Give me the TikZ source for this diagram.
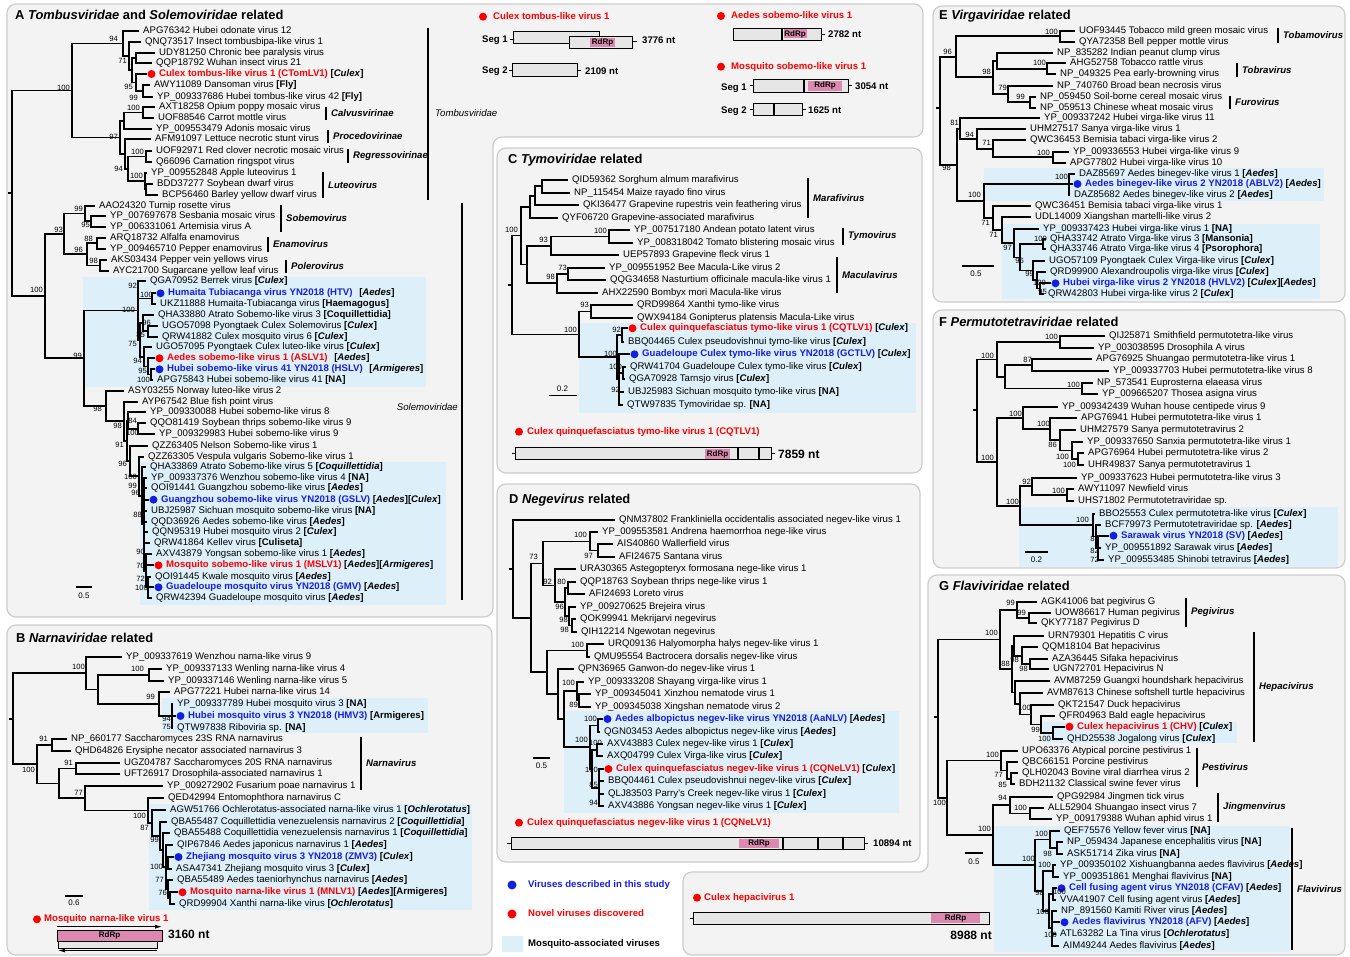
\documentclass[tikz,border=0pt]{standalone}
\usepackage{fontspec}
\setmainfont{Liberation Sans}
\usetikzlibrary{arrows.meta}

\definecolor{panelbg}{RGB}{243,243,243}
\definecolor{panelln}{RGB}{205,205,205}
\definecolor{mosq}{RGB}{221,240,250}
\definecolor{novred}{RGB}{255,0,0}
\definecolor{ourblue}{RGB}{20,30,225}
\definecolor{rdrp}{RGB}{221,136,176}
\definecolor{segfill}{RGB}{230,230,230}

\newcounter{lfn}
\newcounter{bsn}
\newcounter{cnn}
\newcommand{\lfont}{\fontsize{9.6}{11}\selectfont}
\newcommand{\tg}[1]{\textbf{[\textit{#1}]}}
\newcommand{\tgn}[1]{\textbf{[#1]}}
\newcommand{\cy}[1]{\csname cm#1\endcsname}

\tikzset{
  br/.style={line width=1.7pt, line cap=rect},
  lab/.style={anchor=mid west, inner sep=0pt, font=\lfont},
  bsv/.style={anchor=east, inner sep=0pt, font=\fontsize{7.6}{8}\selectfont},
  ttl/.style={anchor=west, inner sep=0pt, font=\fontsize{12.9}{14}\selectfont\bfseries},
  cld/.style={anchor=west, inner sep=0pt, font=\lfont\bfseries\itshape},
  fam/.style={inner sep=0pt, font=\lfont\itshape},
  cbar/.style={line width=1.6pt},
  panel/.style={fill=panelbg, draw=panelln, line width=1.2pt, rounded corners=9pt},
  mbox/.style={fill=mosq},
  seg/.style={fill=segfill, draw=black, line width=1pt},
  sep/.style={line width=1.4pt},
  stb/.style={line width=1pt},
  rd/.style={fill=rdrp},
  rdl/.style={inner sep=0pt, font=\fontsize{8}{9}\selectfont\bfseries},
  gname/.style={anchor=mid west, inner sep=0pt, font=\lfont\bfseries, text=novred},
  ntl/.style={anchor=mid west, inner sep=0pt, font=\lfont\bfseries},
  ntbig/.style={anchor=mid west, inner sep=0pt, font=\fontsize{12}{14}\selectfont\bfseries},
  sbar/.style={line width=1.5pt},
  slab/.style={inner sep=0pt, font=\fontsize{8}{9}\selectfont},
}

% clade: name, parent x, x, top y, bottom y
\newcommand{\cl}[5]{%
  \pgfmathsetmacro{\clm}{(#4+#5)/2}%
  \expandafter\xdef\csname cm#1\endcsname{\clm}%
  \draw[br] (#2,\clm) -- (#3,\clm) (#3,#4) -- (#3,#5);}
% leaf: parent x, text x, y, text
\newcommand{\lf}[4]{%
  \draw[br] (#1,#3) -- ({#2-5},#3);
  \stepcounter{lfn}\node[lab] (lf\arabic{lfn}) at (#2,#3) {#4};}
% marked leaf: parent x, text x, y, colour, name, rest
\newcommand{\lfd}[6]{%
  \draw[br] (#1,#3) -- ({#2-13},#3);
  \fill[#4] ({#2-7.5},#3) circle[radius=4];
  \stepcounter{lfn}\node[lab] (lf\arabic{lfn}) at (#2,#3) {\textcolor{#4}{\textbf{#5}} #6};}
\newcommand{\bs}[3]{\stepcounter{bsn}\node[bsv] (bs\arabic{bsn}) at (#1,#2) {#3};}
\newcommand{\cn}[4]{\draw[cbar] (#1,#2) -- (#1,#3);
  \stepcounter{cnn}\node[cld] (cn\arabic{cnn}) at ({#1+5},{(#2+#3)/2}) {#4};}

\begin{document}
\begin{tikzpicture}[x=1pt,y=-1pt]
\useasboundingbox (0,0) rectangle (1350,957);

% panels
\draw[panel] (7,4) -- (923,4) -- (923,137) -- (493,137) -- (493,617) -- (7,617) -- cycle;
\draw[panel] (7,625) rectangle (492,955);
\draw[panel] (497,148) rectangle (922,473);
\draw[panel] (497,484) rectangle (920,862);
\draw[panel] (933,6) rectangle (1345,302);
\draw[panel] (933,310) rectangle (1345,568);
\draw[panel] (928,575) -- (1345,575) -- (1345,955) -- (683,955) -- (683,872) -- (928,872) -- cycle;

\fill[mbox] (83,277) rectangle (426,387);
\fill[mbox] (140,462) rectangle (446,605);
\fill[mbox] (162,698) rectangle (428,733);
\fill[mbox] (149,804) rectangle (472,910);
\fill[mbox] (579,323) rectangle (916,413);
\fill[mbox] (564,711) rectangle (899,813);
\fill[mbox] (984,168) rectangle (1324,201);
\fill[mbox] (1002,224) rectangle (1320,299);
\fill[mbox] (1019,507) rectangle (1338,567);
\fill[mbox] (1043,722) rectangle (1237,743);
\fill[mbox] (994,826) rectangle (1290,952);

\node[ttl] (tA) at (15,15) {A \textit{Tombusviridae} and \textit{Solemoviridae} related};
\node[ttl] (tB) at (16,638) {B \textit{Narnaviridae} related};
\node[ttl] (tC) at (508,160) {C \textit{Tymoviridae} related};
\node[ttl] (tD) at (509,500) {D \textit{Negevirus} related};
\node[ttl] (tE) at (939,16) {E \textit{Virgaviridae} related};
\node[ttl] (tF) at (939,322) {F \textit{Permutotetraviridae} related};
\node[ttl] (tG) at (939,586) {G \textit{Flaviviridae} related};

% ---------------- A
\cl{T7}{136}{143}{85.3}{96.7}
\cl{T6}{132}{136}{74}{\cy{T7}}
\cl{T5}{132}{136}{52.7}{63.3}
\cl{T4}{129}{132}{\cy{T5}}{\cy{T6}}
\cl{T3}{123}{129}{42}{\cy{T4}}
\cl{T2}{72}{123}{31}{\cy{T3}}
\cl{Tcal}{124}{143}{107.3}{118}
\cl{T11}{120}{124}{\cy{Tcal}}{128.7}
\cl{Treg}{128}{146}{151.3}{162}
\cl{Tlu2}{145}{146}{184}{194.7}
\cl{Tlut}{128}{145}{173.3}{\cy{Tlu2}}
\cl{T13}{125}{128}{\cy{Treg}}{\cy{Tlut}}
\cl{T12}{120}{125}{139.3}{\cy{T13}}
\cl{T10}{72}{120}{\cy{T11}}{\cy{T12}}
\cl{T}{12}{72}{\cy{T2}}{\cy{T10}}
\cl{Sob2}{85}{91}{216}{226.7}
\cl{Sob}{64}{85}{205.7}{\cy{Sob2}}
\cl{Ena}{87}{97}{237.7}{248.7}
\cl{Pol}{87}{100}{260}{271}
\cl{EP}{64}{87}{\cy{Ena}}{\cy{Pol}}
\cl{S1}{45}{64}{\cy{Sob}}{\cy{EP}}
\cl{Htv}{138}{152}{293.3}{303.7}
\cl{Mc1b}{143}{148}{326}{336.7}
\cl{Mc1}{140}{143}{315}{\cy{Mc1b}}
\cl{Mc4}{148}{151}{369.3}{380}
\cl{Mc3}{144}{148}{358.3}{\cy{Mc4}}
\cl{Mc2}{140}{144}{347.3}{\cy{Mc3}}
\cl{Mc}{138}{140}{\cy{Mc1}}{\cy{Mc2}}
\cl{M1}{84}{138}{281}{\cy{Mc}}
\cl{N4b}{128}{138}{423.3}{434.3}
\cl{N4}{127}{128}{412}{\cy{N4b}}
\cl{M2d}{146}{148}{576.7}{598}
\cl{M2c}{144}{146}{554.3}{\cy{M2d}}
\cl{M2a}{142}{144}{477.7}{\cy{M2c}}
\cl{M2}{139}{142}{467.3}{\cy{M2a}}
\cl{N6}{130}{139}{456.7}{\cy{M2}}
\cl{N5}{127}{130}{445.7}{\cy{N6}}
\cl{N3}{124}{127}{\cy{N4}}{\cy{N5}}
\cl{N2}{106}{124}{401.7}{\cy{N3}}
\cl{N1}{84}{106}{391}{\cy{N2}}
\cl{S2}{45}{84}{\cy{M1}}{\cy{N1}}
\cl{S}{12}{45}{\cy{S1}}{\cy{S2}}
\draw[br] (12,\cy{T}) -- (12,\cy{S}) (9,193) -- (12,193);

\lf{123}{143}{31}{APG76342 Hubei odonate virus 12}
\lf{129}{145}{42}{QNQ73517 Insect tombusbipa-like virus 1}
\lf{136}{159}{52.7}{UDY81250 Chronic bee paralysis virus}
\lf{136}{156}{63.3}{QQP18792 Wuhan insect virus 21}
\lfd{136}{159}{74}{novred}{Culex tombus-like virus 1 (CTomLV1)}{\tg{Culex}}
\lf{143}{154}{85.3}{AWY11089 Dansoman virus \tgn{Fly}}
\lf{143}{157}{96.7}{YP\_009337686 Hubei tombus-like virus 42 \tgn{Fly}}
\lf{143}{159}{107.3}{AXT18258 Opium poppy mosaic virus}
\lf{143}{158}{118}{UOF88546 Carrot mottle virus}
\lf{124}{156}{128.7}{YP\_009553479 Adonis mosaic virus}
\lf{125}{155}{139.3}{AFM91097 Lettuce necrotic stunt virus}
\lf{146}{156}{151.3}{UOF92971 Red clover necrotic mosaic virus}
\lf{146}{156}{162}{Q66096 Carnation ringspot virus}
\lf{145}{151}{173.3}{YP\_009552848 Apple luteovirus 1}
\lf{146}{157}{184}{BDD37277 Soybean dwarf virus}
\lf{146}{162}{194.7}{BCP56460 Barley yellow dwarf virus}
\lf{85}{99}{205.7}{AAO24320 Turnip rosette virus}
\lf{91}{110}{216}{YP\_007697678 Sesbania mosaic virus}
\lf{91}{110}{226.7}{YP\_006331061 Artemisia virus A}
\lf{97}{110}{237.7}{ARQ18732 Alfalfa enamovirus}
\lf{97}{110}{248.7}{YP\_009465710 Pepper enamovirus}
\lf{100}{111}{260}{AKS03434 Pepper vein yellows virus}
\lf{100}{113}{271}{AYC21700 Sugarcane yellow leaf virus}
\lf{138}{150}{281}{QGA70952 Berrek virus \tg{Culex}}
\lfd{152}{168}{293.3}{ourblue}{Humaita Tubiacanga virus YN2018 (HTV)}{\hspace{4pt}\tg{Aedes}}
\lf{152}{160}{303.7}{UKZ11888 Humaita-Tubiacanga virus \tgn{Haemagogus}}
\lf{143}{158}{315}{QHA33880 Atrato Sobemo-like virus 3 \tgn{Coquillettidia}}
\lf{148}{162}{326}{UGO57098 Pyongtaek Culex Solemovirus \tg{Culex}}
\lf{148}{162}{336.7}{QRW41882 Culex mosquito virus 6 \tg{Culex}}
\lf{144}{156}{347.3}{UGO57095 Pyongtaek Culex luteo-like virus \tg{Culex}}
\lfd{148}{167}{358.3}{novred}{Aedes sobemo-like virus 1 (ASLV1)}{\hspace{4pt}\tg{Aedes}}
\lfd{151}{167}{369.3}{ourblue}{Hubei sobemo-like virus 41 YN2018 (HSLV)}{\hspace{4pt}\tg{Armigeres}}
\lf{151}{157}{380}{APG75843 Hubei sobemo-like virus 41 \tgn{NA}}
\lf{106}{128}{391}{ASY03255 Norway luteo-like virus 2}
\lf{124}{142}{401.7}{AYP67542 Blue fish point virus}
\lf{128}{150}{412}{YP\_009330088 Hubei sobemo-like virus 8}
\lf{138}{150}{423.3}{QQO81419 Soybean thrips sobemo-like virus 9}
\lf{138}{159}{434.3}{YP\_009329983 Hubei sobemo-like virus 9}
\lf{130}{152}{445.7}{QZZ63405 Nelson Sobemo-like virus 1}
\lf{139}{148}{456.7}{QZZ63305 Vespula vulgaris Sobemo-like virus 1}
\lf{142}{150}{467.3}{QHA33869 Atrato Sobemo-like virus 5 \tg{Coquillettidia}}
\lf{144}{151}{477.7}{YP\_009337376 Wenzhou sobemo-like virus 4 \tgn{NA}}
\lf{144}{151}{488.3}{QOI91441 Guangzhou sobemo-like virus \tg{Aedes}}
\lfd{144}{161}{499.7}{ourblue}{Guangzhou sobemo-like virus YN2018 (GSLV)}{\tg{Aedes}\tg{Culex}}
\lf{144}{151}{511}{UBJ25987 Sichuan mosquito sobemo-like virus \tgn{NA}}
\lf{144}{151}{521.7}{QQD36926 Aedes sobemo-like virus \tg{Aedes}}
\lf{144}{152}{532.3}{QQN95319 Hubei mosquito virus 2 \tg{Culex}}
\lf{144}{154}{543}{QRW41864 Kellev virus \tgn{Culiseta}}
\lf{146}{156}{554.3}{AXV43879 Yongsan sobemo-like virus 1 \tg{Aedes}}
\lfd{146}{166}{565.3}{novred}{Mosquito sobemo-like virus 1 (MSLV1)}{\tg{Aedes}\tg{Armigeres}}
\lf{148}{155}{576.7}{QOI91445 Kwale mosquito virus \tg{Aedes}}
\lfd{148}{166}{587.3}{ourblue}{Guadeloupe mosquito virus YN2018 (GMV)}{\tg{Aedes}}
\lf{148}{156}{598}{QRW42394 Guadeloupe mosquito virus \tg{Aedes}}

\bs{118}{39}{94} \bs{127}{61}{71} \bs{133}{87}{95} \bs{138}{98}{99} \bs{70}{88}{100}
\bs{140}{108}{100} \bs{118}{137}{97} \bs{144}{152}{100} \bs{123}{169}{94} \bs{143}{176}{100}
\bs{83}{209}{99} \bs{90}{225}{95} \bs{63}{230}{93} \bs{93}{239}{88} \bs{83}{250}{96} \bs{98}{261}{98}
\bs{43}{290}{100} \bs{137}{286}{92} \bs{153}{295}{100} \bs{135}{310}{100} \bs{151}{323}{96}
\bs{145}{335}{85} \bs{137}{344}{75} \bs{142}{361}{94} \bs{147}{371}{95} \bs{150}{380}{100}
\bs{82}{356}{99} \bs{102}{409}{98} \bs{122}{426}{98} \bs{137}{421}{84} \bs{139}{433}{100}
\bs{124}{445}{91} \bs{127}{464}{96} \bs{137}{477}{100} \bs{137}{486}{99} \bs{140}{493}{96}
\bs{142}{515}{88} \bs{145}{552}{90} \bs{145}{566}{70} \bs{145}{579}{72} \bs{148}{588}{100}

\cn{326}{107}{120}{Calvusvirinae}
\cn{328}{130}{143}{Procedovirinae}
\cn{348}{149}{163}{Regressovirinae}
\cn{323}{172}{198}{Luteovirus}
\cn{281}{205}{232}{Sobemovirus}
\cn{268}{237}{252}{Enamovirus}
\cn{286}{260}{273}{Polerovirus}
\draw[cbar] (428,28) -- (428,200);
\node[fam, anchor=west] (famT) at (435,113) {Tombusviridae};
\draw[cbar] (462,203) -- (462,600);
\node[fam, anchor=east] (famS) at (458,407) {Solemoviridae};
\draw[sbar] (76,587) -- (92,587);
\node[slab] (sA) at (84,596) {0.5};

% genomes top
\fill[novred] (483,16.7) circle[radius=4];
\node[gname] (gCT) at (493,16.7) {Culex tombus-like virus 1};
\node[ntl] (sCT1) at (482,40) {Seg 1};
\draw[stb] (510,40) -- (513,40);
\draw[seg] (513,31.7) rectangle (599,43.3);
\draw[seg] (569,36.7) rectangle (632,48.3);
\fill[rd] (590,38) rectangle (615,47.3);
\node[rdl] (rCT) at (602.5,42.7) {RdRp};
\draw[stb] (632,42) -- (637,42);
\node[ntl] (nCT1) at (642,41) {3776 nt};
\node[ntl] (sCT2) at (482,71) {Seg 2};
\draw[stb] (509,70.3) -- (512,70.3);
\draw[seg] (512,64) rectangle (577,76.7);
\draw[stb] (577,70.3) -- (581,70.3);
\node[ntl] (nCT2) at (585,71.5) {2109 nt};

\fill[novred] (721,16) circle[radius=4];
\node[gname] (gAS) at (731,16) {Aedes sobemo-like virus 1};
\draw[seg] (733,28.3) rectangle (821,40.7);
\fill[rd] (783.5,29.3) rectangle (807,38.5);
\node[rdl] (rAS) at (795,34) {RdRp};
\draw[sep] (782,28.3) -- (782,40.7);
\draw[stb] (821,34.5) -- (825,34.5);
\node[ntl] (nAS) at (828,35) {2782 nt};

\fill[novred] (721,66.7) circle[radius=4];
\node[gname] (gMS) at (731,66.7) {Mosquito sobemo-like virus 1};
\node[ntl] (sMS1) at (721,88) {Seg 1};
\draw[stb] (750,86) -- (753,86);
\draw[seg] (753,79.3) rectangle (848,92.3);
\fill[rd] (808,81) rectangle (842,90.7);
\node[rdl] (rMS) at (825,85.8) {RdRp};
\draw[sep] (804,79.3) -- (804,92.3);
\draw[stb] (848,86) -- (852,86);
\node[ntl] (nMS1) at (855,87) {3054 nt};
\node[ntl] (sMS2) at (721,110.7) {Seg 2};
\draw[stb] (750,109.5) -- (753,109.5);
\draw[seg] (753,103.3) rectangle (802,115.7);
\draw[sep] (774,103.3) -- (774,115.7);
\draw[stb] (802,109.5) -- (806,109.5);
\node[ntl] (nMS2) at (808,110.7) {1625 nt};

% ---------------- B
\cl{B3}{98}{149}{669}{680.7}
\cl{B5}{159}{172}{704}{727.7}
\cl{B4}{98}{159}{692.3}{\cy{B5}}
\cl{B2}{86}{98}{\cy{B3}}{\cy{B4}}
\cl{Bt}{13}{86}{656.7}{\cy{B2}}
\cl{B6}{37}{52}{739.3}{751}
\cl{B8}{59}{76}{762.7}{774.3}
\cl{B17}{168}{170}{892.3}{904}
\cl{B16}{166}{168}{880.3}{\cy{B17}}
\cl{B15}{166}{168}{857}{868.7}
\cl{B14}{163}{166}{845}{\cy{B16}}
\cl{B13}{160}{163}{833.3}{\cy{B14}}
\cl{B12}{152}{160}{821.7}{\cy{B13}}
\cl{B11}{148}{152}{810}{\cy{B12}}
\cl{B10}{85}{148}{798.3}{\cy{B11}}
\cl{B9}{59}{85}{786}{\cy{B10}}
\cl{B7}{37}{59}{\cy{B8}}{\cy{B9}}
\cl{Bb}{13}{37}{\cy{B6}}{\cy{B7}}
\draw[br] (13,\cy{Bt}) -- (13,\cy{Bb}) (10,718.7) -- (13,718.7);

\lf{86}{126}{656.7}{YP\_009337619 Wenzhou narna-like virus 9}
\lf{149}{166}{669}{YP\_009337133 Wenling narna-like virus 4}
\lf{149}{168}{680.7}{YP\_009337146 Wenling narna-like virus 5}
\lf{159}{174}{692.3}{APG77221 Hubei narna-like virus 14}
\lf{172}{177}{704}{YP\_009337789 Hubei mosquito virus 3 \tgn{NA}}
\lfd{172}{188}{716}{ourblue}{Hubei mosquito virus 3 YN2018 (HMV3)}{\tgn{Armigeres}}
\lf{172}{177}{727.7}{QTW97838 Riboviria sp. \tgn{NA}}
\lf{52}{71}{739.3}{NP\_660177 Saccharomyces 23S RNA narnavirus}
\lf{52}{75}{751}{QHD64826 Erysiphe necator associated narnavirus 3}
\lf{76}{124}{762.7}{UGZ04787 Saccharomyces 20S RNA narnavirus}
\lf{76}{124}{774.3}{UFT26917 Drosophila-associated narnavirus 1}
\lf{85}{167}{786}{YP\_009272902 Fusarium poae narnavirus 1}
\lf{148}{168}{798.3}{QED42994 Entomophthora narnavirus C}
\lf{152}{170}{810}{AGW51766 Ochlerotatus-associated narna-like virus 1 \tg{Ochlerotatus}}
\lf{160}{171}{821.7}{QBA55487 Coquillettidia venezuelensis narnavirus 2 \tg{Coquillettidia}}
\lf{163}{174}{833.3}{QBA55488 Coquillettidia venezuelensis narnavirus 1 \tg{Coquillettidia}}
\lf{166}{177}{845}{QIP67846 Aedes japonicus narnavirus 1 \tg{Aedes}}
\lfd{168}{186}{857}{ourblue}{Zhejiang mosquito virus 3 YN2018 (ZMV3)}{\tg{Culex}}
\lf{168}{176}{868.7}{ASA47341 Zhejiang mosquito virus 3 \tg{Culex}}
\lf{168}{177}{880.3}{QBA55489 Aedes taeniorhynchus narnavirus \tg{Aedes}}
\lfd{170}{190}{892.3}{novred}{Mosquito narna-like virus 1 (MNLV1)}{\tg{Aedes}\tgn{Armigeres}}
\lf{170}{179}{904}{QRD99904 Xanthi narna-like virus \tg{Ochlerotatus}}

\bs{85}{667}{100} \bs{144}{669}{100} \bs{155}{697}{99} \bs{171}{719}{94} \bs{171}{726.5}{75}
\bs{48}{739}{91} \bs{35}{770}{100} \bs{73}{763}{91} \bs{83}{793}{77} \bs{146}{816}{100}
\bs{149}{828}{87} \bs{159}{840}{99} \bs{163}{867}{100} \bs{164}{880}{77} \bs{167}{893}{76}

\cn{361}{737}{790}{Narnavirus}
\draw[sbar] (65,896) -- (83,896);
\node[slab] (sB) at (74,903) {0.6};
\fill[novred] (37,919.3) circle[radius=4];
\node[gname] (gMN) at (44,919.3) {Mosquito narna-like virus 1};
\draw[line width=1pt, -{Latex[length=7pt,width=4pt]}] (57,926.7) -- (162,926.7);
\draw[seg, fill=rdrp] (57,930) rectangle (162,941.7);
\node[rdl] (rMN) at (109.5,935.8) {RdRp};
\draw[seg] (58,941.7) rectangle (157,948.3);
\draw[line width=1pt, -{Latex[length=7pt,width=4pt]}] (157,950.5) -- (58,950.5);
\node[ntbig] (nMN) at (168,936) {3160 nt};

% ---------------- C
\cl{C2b}{535}{542}{180}{192.7}
\cl{C2a}{530}{535}{\cy{C2b}}{205}
\cl{C2}{521}{530}{\cy{C2a}}{217.7}
\cl{Ctym}{551}{609}{230.3}{242.7}
\cl{C4}{527}{551}{\cy{Ctym}}{255}
\cl{C7}{557}{568}{267.7}{280}
\cl{C6}{527}{557}{\cy{C7}}{292.7}
\cl{C3}{521}{527}{\cy{C4}}{\cy{C6}}
\cl{Cm}{512}{521}{\cy{C2}}{\cy{C3}}
\cl{C8}{579}{591}{305.3}{317.7}
\cl{C10}{617}{622}{328.3}{341.7}
\cl{C12}{619}{623}{366.7}{379.3}
\cl{C11}{617}{619}{354.3}{404.7}
\cl{C9}{579}{617}{\cy{C10}}{\cy{C11}}
\cl{Cq}{512}{579}{\cy{C8}}{\cy{C9}}
\draw[br] (512,\cy{Cm}) -- (512,\cy{Cq}) (509,285) -- (512,285);

\lf{542}{572}{180}{QID59362 Sorghum almum marafivirus}
\lf{542}{574}{192.7}{NP\_115454 Maize rayado fino virus}
\lf{535}{583}{205}{QKI36477 Grapevine rupestris vein feathering virus}
\lf{530}{562}{217.7}{QYF06720 Grapevine-associated marafivirus}
\lf{609}{634}{230.3}{YP\_007517180 Andean potato latent virus}
\lf{609}{637}{242.7}{YP\_008318042 Tomato blistering mosaic virus}
\lf{551}{623}{255}{UEP57893 Grapevine fleck virus 1}
\lf{568}{609}{267.7}{YP\_009551952 Bee Macula-Like virus 2}
\lf{568}{610}{280}{QQG34658 Nasturtium officinale macula-like virus 1}
\lf{557}{602}{292.7}{AHX22590 Bombyx mori Macula-like virus}
\lf{591}{637}{305.3}{QRD99864 Xanthi tymo-like virus}
\lf{591}{637}{317.7}{QWX94184 Gonipterus platensis Macula-Like virus}
\lfd{622}{640}{328.3}{novred}{Culex quinquefasciatus tymo-like virus 1 (CQTLV1)}{\tg{Culex}}
\lf{622}{628}{341.7}{BBQ04465 Culex pseudovishnui tymo-like virus \tg{Culex}}
\lfd{619}{642}{354.3}{ourblue}{Guadeloupe Culex tymo-like virus YN2018 (GCTLV)}{\tg{Culex}}
\lf{623}{630}{366.7}{QRW41704 Guadeloupe Culex tymo-like virus \tg{Culex}}
\lf{623}{629}{379.3}{QGA70928 Tarnsjo virus \tg{Culex}}
\lf{619}{628}{392}{UBJ25983 Sichuan mosquito tymo-like virus \tgn{NA}}
\lf{619}{627}{404.7}{QTW97835 Tymoviridae sp. \tgn{NA}}

\bs{518}{230}{100} \bs{607}{231}{100} \bs{548}{240}{93} \bs{567}{268}{73} \bs{555}{277}{98}
\bs{589}{305}{93} \bs{577}{330}{100} \bs{621}{330}{92} \bs{617}{354}{100} \bs{622}{367}{100}
\bs{620}{390}{92}

\cn{808}{178}{218}{Marafivirus}
\cn{843}{228}{245}{Tymovirus}
\cn{837}{257}{293}{Maculavirus}
\draw[sbar] (549,395.7) -- (577,395.7);
\node[slab] (sC) at (562.5,389) {0.2};
\fill[novred] (519,431.7) circle[radius=4];
\node[gname] (gCQ) at (527,431.7) {Culex quinquefasciatus tymo-like virus 1 (CQTLV1)};
\draw[stb] (512,454) -- (515,454);
\draw[seg] (515,448) rectangle (771,460);
\fill[rd] (705,449.2) rectangle (730,458.8);
\node[rdl] (rCQ) at (717.5,454) {RdRp};
\draw[sep] (738,448) -- (738,460) (759,448) -- (759,460);
\draw[stb] (771,454) -- (775,454);
\node[ntbig] (nCQ) at (778,456) {7859 nt};

% ---------------- D
\cl{D3b}{590}{598}{544.3}{556.7}
\cl{D3}{543}{590}{532.3}{\cy{D3b}}
\cl{D4b}{565}{568}{581.7}{594}
\cl{D4d}{569}{572}{619.3}{631.7}
\cl{D4c}{565}{569}{606.7}{\cy{D4d}}
\cl{D4a}{555}{565}{\cy{D4b}}{\cy{D4c}}
\cl{D4}{543}{555}{569.3}{\cy{D4a}}
\cl{D2}{531}{543}{\cy{D3}}{\cy{D4}}
\cl{D6}{547}{587}{644.3}{656.7}
\cl{D9b}{577}{579}{694}{706.7}
\cl{D9}{564}{577}{681.7}{\cy{D9b}}
\cl{D11}{590}{598}{719}{731.7}
\cl{D13}{592}{597}{744}{756.3}
\cl{D14}{592}{599}{769}{806.3}
\cl{D12}{590}{592}{\cy{D13}}{\cy{D14}}
\cl{D10}{564}{590}{\cy{D11}}{\cy{D12}}
\cl{D8}{558}{564}{\cy{D9}}{\cy{D10}}
\cl{D7}{547}{558}{669.3}{\cy{D8}}
\cl{D5}{531}{547}{\cy{D6}}{\cy{D7}}
\cl{D1}{513}{531}{\cy{D2}}{\cy{D5}}
\draw[br] (513,520) -- (513,\cy{D1}) (510,569) -- (513,569);

\lf{513}{619}{520}{QNM37802 Frankliniella occidentalis associated negev-like virus 1}
\lf{590}{602}{532.3}{YP\_009553581 Andrena haemorrhoa nege-like virus}
\lf{598}{617}{544.3}{AIS40860 Wallerfield virus}
\lf{598}{619}{556.7}{AFI24675 Santana virus}
\lf{555}{580}{569.3}{URA30365 Astegopteryx formosana nege-like virus 1}
\lf{568}{580}{581.7}{QQP18763 Soybean thrips nege-like virus 1}
\lf{568}{589}{594}{AFI24693 Loreto virus}
\lf{569}{580}{606.7}{YP\_009270625 Brejeira virus}
\lf{572}{580}{619.3}{QOK99941 Mekrijarvi negevirus}
\lf{572}{581}{631.7}{QIH12214 Ngewotan negevirus}
\lf{587}{608}{644.3}{URQ09136 Halyomorpha halys negev-like virus 1}
\lf{587}{594}{656.7}{QMU95554 Bactrocera dorsalis negev-like virus}
\lf{558}{578}{669.3}{QPN36965 Ganwon-do negev-like virus 1}
\lf{577}{588}{681.7}{YP\_009333208 Shayang virga-like virus 1}
\lf{579}{595}{694}{YP\_009345041 Xinzhou nematode virus 1}
\lf{579}{595}{706.7}{YP\_009345038 Xingshan nematode virus 2}
\lfd{598}{615}{719}{ourblue}{Aedes albopictus negev-like virus YN2018 (AaNLV)}{\tg{Aedes}}
\lf{598}{604}{731.7}{QGN03453 Aedes albopictus negev-like virus \tg{Aedes}}
\lf{597}{607}{744}{AXV43883 Culex negev-like virus 1 \tg{Culex}}
\lf{597}{607}{756.3}{AXQ04799 Culex Virga-like virus \tg{Culex}}
\lfd{599}{616}{769}{novred}{Culex quinquefasciatus negev-like virus 1 (CQNeLV1)}{\tg{Culex}}
\lf{599}{608}{781.3}{BBQ04461 Culex pseudovishnui negev-like virus \tg{Culex}}
\lf{599}{608}{793.7}{QLJ83503 Parry's Creek negev-like virus 1 \tg{Culex}}
\lf{599}{608}{806.3}{AXV43886 Yongsan negev-like virus 1 \tg{Culex}}

\bs{587}{535}{100} \bs{593}{556}{97} \bs{538}{557}{73} \bs{552}{582}{92} \bs{566}{582}{80}
\bs{564}{607}{96} \bs{568}{620}{98} \bs{569}{630}{98} \bs{584}{645}{100} \bs{575}{683}{100}
\bs{578}{705}{89} \bs{597}{719}{100} \bs{588}{740}{100} \bs{602}{743}{100} \bs{598}{770}{100}
\bs{598}{785}{85} \bs{598}{803}{94}

\draw[sbar] (533,758) -- (550,758);
\node[slab] (sD) at (541.5,766) {0.5};
\fill[novred] (519,822.7) circle[radius=4];
\node[gname] (gCN) at (527,822.7) {Culex quinquefasciatus negev-like virus 1 (CQNeLV1)};
\draw[stb] (507,843.5) -- (511,843.5);
\draw[seg] (511,837.7) rectangle (864,849.3);
\fill[rd] (739,838.7) rectangle (779,848.3);
\node[rdl] (rCN) at (759,843.5) {RdRp};
\draw[sep] (783,837.7) -- (783,849.3) (818,837.7) -- (818,849.3) (843,837.7) -- (843,849.3);
\draw[stb] (864,843.5) -- (868,843.5);
\node[ntl] (nCN) at (873,844.3) {10894 nt};

% ---------------- E
\cl{Etob}{956}{1060}{31}{41.7}
\cl{Etobra}{997}{1047}{63.3}{74.3}
\cl{E3}{993}{997}{52.7}{\cy{Etobra}}
\cl{Efuro}{1008}{1030}{96.7}{107.7}
\cl{E4}{993}{1008}{85.7}{\cy{Efuro}}
\cl{E2}{956}{993}{\cy{E3}}{\cy{E4}}
\cl{E1}{940}{956}{\cy{Etob}}{\cy{E2}}
\cl{E8b}{993}{1053}{151.7}{162.7}
\cl{E8}{977}{993}{140.3}{\cy{E8b}}
\cl{E7}{960}{977}{129.3}{\cy{E8}}
\cl{E6}{957}{960}{118.3}{\cy{E7}}
\cl{E10}{984}{1069}{173.7}{195}
\cl{E15}{1020}{1043}{239.3}{249.3}
\cl{E17b}{1037}{1040}{283.3}{294}
\cl{E17}{1033}{1037}{271.7}{\cy{E17b}}
\cl{E16}{1020}{1033}{260.7}{\cy{E17}}
\cl{E14}{1014}{1020}{\cy{E15}}{\cy{E16}}
\cl{E13}{1002}{1014}{228.7}{\cy{E14}}
\cl{E12}{993}{1002}{217.3}{\cy{E13}}
\cl{E11}{984}{993}{206.3}{\cy{E12}}
\cl{E9}{957}{984}{\cy{E10}}{\cy{E11}}
\cl{E5}{940}{957}{\cy{E6}}{\cy{E9}}
\draw[br] (940,\cy{E1}) -- (940,\cy{E5}) (937,108) -- (940,108);

\lf{1060}{1079}{31}{UOF93445 Tobacco mild green mosaic virus}
\lf{1060}{1079}{41.7}{QYA72358 Bell pepper mottle virus}
\lf{997}{1057}{52.7}{NP\_835282 Indian peanut clump virus}
\lf{1047}{1070}{63.3}{AHG52758 Tobacco rattle virus}
\lf{1047}{1060}{74.3}{NP\_049325 Pea early-browning virus}
\lf{1008}{1057}{85.7}{NP\_740760 Broad bean necrosis virus}
\lf{1030}{1040}{96.7}{NP\_059450 Soil-borne cereal mosaic virus}
\lf{1030}{1040}{107.7}{NP\_059513 Chinese wheat mosaic virus}
\lf{960}{1044}{118.3}{YP\_009337242 Hubei virga-like virus 11}
\lf{977}{1030}{129.3}{UHM27517 Sanya virga-like virus 1}
\lf{993}{1030}{140.3}{QWC36453 Bemisia tabaci virga-like virus 2}
\lf{1053}{1073}{151.7}{YP\_009336553 Hubei virga-like virus 9}
\lf{1053}{1070}{162.7}{APG77802 Hubei virga-like virus 10}
\lf{1069}{1079}{173.7}{DAZ85697 Aedes binegev-like virus 1 \tg{Aedes}}
\lfd{1069}{1085}{184}{ourblue}{Aedes binegev-like virus 2 YN2018 (ABLV2)}{\tg{Aedes}}
\lf{1069}{1074}{195}{DAZ85682 Aedes binegev-like virus 2 \tg{Aedes}}
\lf{993}{1035}{206.3}{QWC36451 Bemisia tabaci virga-like virus 1}
\lf{1002}{1035}{217.3}{UDL14009 Xiangshan martelli-like virus 2}
\lf{1014}{1043}{228.7}{YP\_009337423 Hubei virga-like virus 1 \tgn{NA}}
\lf{1043}{1050}{239.3}{QHA33742 Atrato Virga-like virus 3 \tgn{Mansonia}}
\lf{1043}{1050}{249.3}{QHA33746 Atrato Virga-like virus 4 \tgn{Psorophora}}
\lf{1033}{1049}{260.7}{UGO57109 Pyongtaek Culex Virga-like virus \tg{Culex}}
\lf{1037}{1050}{271.7}{QRD99900 Alexandroupolis virga-like virus \tg{Culex}}
\lfd{1040}{1063}{283.3}{ourblue}{Hubei virga-like virus 2 YN2018 (HVLV2)}{\tg{Culex}\tg{Aedes}}
\lf{1040}{1048}{294}{QRW42803 Hubei virga-like virus 2 \tg{Culex}}

\bs{1058}{32}{100} \bs{952}{52}{96} \bs{1046}{63}{100} \bs{991}{72}{98} \bs{1007}{88}{79}
\bs{1025}{97}{99} \bs{959}{123}{81} \bs{974}{135}{94} \bs{991}{143}{71} \bs{1050}{153}{100}
\bs{951}{168}{98} \bs{1068}{177}{100} \bs{981}{195}{100} \bs{990}{223}{71} \bs{998}{235}{71}
\bs{1012}{248}{97} \bs{1047}{239}{100} \bs{1024}{261}{96} \bs{1034}{274}{99} \bs{1046}{283}{100}
\bs{1047}{292}{95}

\cn{1278}{28}{43}{Tobamovirus}
\cn{1237}{63}{77}{Tobravirus}
\cn{1230}{96}{109}{Furovirus}
\draw[sbar] (962,266) -- (994,266);
\node[slab] (sE) at (976,274) {0.5};

% ---------------- F
\cl{Fa}{997}{1060}{336}{347.7}
\cl{F2a}{1005}{1032}{359.3}{371}
\cl{F2b}{1005}{1082}{383}{394.3}
\cl{F2}{997}{1005}{\cy{F2a}}{\cy{F2b}}
\cl{F1}{977}{997}{\cy{Fa}}{\cy{F2}}
\cl{F6d}{1072}{1078}{453.3}{465.3}
\cl{F6c}{1060}{1072}{441.7}{\cy{F6d}}
\cl{F6b}{1050}{1060}{430}{\cy{F6c}}
\cl{F6}{1023}{1050}{418.3}{\cy{F6b}}
\cl{F5}{997}{1023}{406.7}{\cy{F6}}
\cl{F9b}{1032}{1067}{489}{500.7}
\cl{F9}{1020}{1032}{477.7}{\cy{F9b}}
\cl{F11b}{1096}{1098}{535.7}{560}
\cl{F11}{1093}{1096}{525}{\cy{F11b}}
\cl{F10}{1020}{1093}{514}{\cy{F11}}
\cl{F8}{997}{1020}{\cy{F9}}{\cy{F10}}
\cl{F4}{977}{997}{\cy{F5}}{\cy{F8}}
\draw[br] (977,\cy{F1}) -- (977,\cy{F4}) (974,410) -- (977,410);

\lf{1060}{1109}{336}{QIJ25871 Smithfield permutotetra-like virus}
\lf{1060}{1098}{347.7}{YP\_003038595 Drosophila A virus}
\lf{1032}{1096}{359.3}{APG76925 Shuangao permutotetra-like virus 1}
\lf{1032}{1113}{371}{YP\_009337703 Hubei permutotetra-like virus 8}
\lf{1082}{1097}{383}{NP\_573541 Euprosterna elaeasa virus}
\lf{1082}{1102}{394.3}{YP\_009665207 Thosea asigna virus}
\lf{1023}{1062}{406.7}{YP\_009342439 Wuhan house centipede virus 9}
\lf{1050}{1081}{418.3}{APG76941 Hubei permutotetra-like virus 1}
\lf{1060}{1080}{430}{UHM27579 Sanya permutotetravirus 2}
\lf{1072}{1087}{441.7}{YP\_009337650 Sanxia permutotetra-like virus 1}
\lf{1078}{1088}{453.3}{APG76964 Hubei permutotetra-like virus 2}
\lf{1078}{1088}{465.3}{UHR49837 Sanya permutotetravirus 1}
\lf{1032}{1081}{477.7}{YP\_009337623 Hubei permutotetra-like virus 3}
\lf{1067}{1078}{489}{AWY11097 Newfield virus}
\lf{1067}{1078}{500.7}{UHS71802 Permutotetraviridae sp.}
\lf{1093}{1099}{514}{BBO25553 Culex permutotetra-like virus \tg{Culex}}
\lf{1096}{1105}{525}{BCF79973 Permutotetraviridae sp. \tg{Aedes}}
\lfd{1098}{1121}{535.7}{ourblue}{Sarawak virus YN2018 (SV)}{\tg{Aedes}}
\lf{1098}{1105}{547.7}{YP\_009551892 Sarawak virus \tg{Aedes}}
\lf{1098}{1108}{560}{YP\_009553485 Shinobi tetravirus \tg{Aedes}}

\bs{1058}{337}{100} \bs{994}{356}{100} \bs{1032}{360}{87} \bs{1080}{385}{100} \bs{1022}{414}{100}
\bs{1050}{424}{100} \bs{1057}{445}{86} \bs{1069}{457}{100} \bs{1076}{465}{100} \bs{994}{458}{100}
\bs{1031}{482}{92} \bs{1065}{491}{100} \bs{1019}{502}{100} \bs{1089}{520}{100} \bs{1099}{539}{88}
\bs{1099}{551}{82} \bs{1099}{560}{72}

\draw[sbar] (1025,552) -- (1048,552);
\node[slab] (sF) at (1036.5,560) {0.2};

% ---------------- G
\cl{Gpeg2}{1017}{1029}{612.7}{623.3}
\cl{Gpeg}{1000}{1017}{601.7}{\cy{Gpeg2}}
\cl{Gh3}{1022}{1030}{658.7}{669.3}
\cl{Gh2}{1014}{1022}{647.3}{\cy{Gh3}}
\cl{Gh1}{1012}{1014}{635.7}{\cy{Gh2}}
\cl{Gh8}{1041}{1053}{726.7}{738.7}
\cl{Gh7}{1031}{1041}{716}{\cy{Gh8}}
\cl{Gh6}{1020}{1031}{704.7}{\cy{Gh7}}
\cl{Gh5}{1015}{1020}{693}{\cy{Gh6}}
\cl{Gh4}{1012}{1015}{681.3}{\cy{Gh5}}
\cl{Ghep}{1000}{1012}{\cy{Gh1}}{\cy{Gh4}}
\cl{G1}{938}{1000}{\cy{Gpeg}}{\cy{Ghep}}
\cl{Gp3}{1007}{1011}{773.3}{784.3}
\cl{Gp2}{1001}{1007}{762}{\cy{Gp3}}
\cl{Gpest}{947}{1001}{750.7}{\cy{Gp2}}
\cl{Gj2}{1010}{1030}{807.7}{819}
\cl{Gjing}{993}{1010}{796.7}{\cy{Gj2}}
\cl{Gfl2}{1050}{1057}{842.3}{854}
\cl{Gfl1}{1035}{1050}{830.7}{\cy{Gfl2}}
\cl{Gfl4}{1043}{1053}{865}{876.7}
\cl{Gfl6}{1049}{1053}{888.3}{900}
\cl{Gfl7}{1049}{1052}{910.7}{945.7}
\cl{Gfl5}{1043}{1049}{\cy{Gfl6}}{\cy{Gfl7}}
\cl{Gfl3}{1035}{1043}{\cy{Gfl4}}{\cy{Gfl5}}
\cl{Gflavi}{993}{1035}{\cy{Gfl1}}{\cy{Gfl3}}
\cl{G3}{947}{993}{\cy{Gjing}}{\cy{Gflavi}}
\cl{G2}{938}{947}{\cy{Gpest}}{\cy{G3}}
\draw[br] (938,\cy{G1}) -- (938,\cy{G2}) (935,717) -- (938,717);

\lf{1017}{1041}{601.7}{AGK41006 bat pegivirus G}
\lf{1029}{1055}{612.7}{UOW86617 Human pegivirus}
\lf{1029}{1041}{623.3}{QKY77187 Pegivirus D}
\lf{1014}{1048}{635.7}{URN79301 Hepatitis C virus}
\lf{1022}{1042}{647.3}{QQM18104 Bat hepacivirus}
\lf{1030}{1052}{658.7}{AZA36445 Sifaka hepacivirus}
\lf{1030}{1053}{669.3}{UGN72701 Hepacivirus N}
\lf{1015}{1054}{681.3}{AVM87259 Guangxi houndshark hepacivirus}
\lf{1020}{1047}{693}{AVM87613 Chinese softshell turtle hepacivirus}
\lf{1031}{1058}{704.7}{QKT21547 Duck hepacivirus}
\lf{1041}{1059}{716}{QFR04963 Bald eagle hepacivirus}
\lfd{1053}{1077}{726.7}{novred}{Culex hepacivirus 1 (CHV)}{\tg{Culex}}
\lf{1053}{1067}{738.7}{QHD25538 Jogalong virus \tg{Culex}}
\lf{1001}{1022}{750.7}{UPO63376 Atypical porcine pestivirus 1}
\lf{1007}{1022}{762}{QBC66151 Porcine pestivirus}
\lf{1011}{1022}{773.3}{QLH02043 Bovine viral diarrhea virus 2}
\lf{1011}{1019}{784.3}{BDH21132 Classical swine fever virus}
\lf{1010}{1057}{796.7}{QPG92984 Jingmen tick virus}
\lf{1030}{1048}{807.7}{ALL52904 Shuangao insect virus 7}
\lf{1030}{1056}{819}{YP\_009179388 Wuhan aphid virus 1}
\lf{1050}{1064}{830.7}{QEF75576 Yellow fever virus \tgn{NA}}
\lf{1057}{1067}{842.3}{NP\_059434 Japanese encephalitis virus \tgn{NA}}
\lf{1057}{1067}{854}{ASK51714 Zika virus \tgn{NA}}
\lf{1053}{1060}{865}{YP\_009350102 Xishuangbanna aedes flavivirus \tg{Aedes}}
\lf{1053}{1063}{876.7}{YP\_009351861 Menghai flavivirus \tgn{NA}}
\lfd{1053}{1069}{888.3}{ourblue}{Cell fusing agent virus YN2018 (CFAV)}{\tg{Aedes}}
\lf{1053}{1060}{900}{VVA41907 Cell fusing agent virus \tg{Aedes}}
\lf{1052}{1061}{910.7}{NP\_891560 Kamiti River virus \tg{Aedes}}
\lfd{1052}{1072}{922.3}{ourblue}{Aedes flavivirus YN2018 (AFV)}{\tg{Aedes}}
\lf{1052}{1060}{934}{ATL63282 La Tina virus \tg{Ochlerotatus}}
\lf{1052}{1063}{945.7}{AIM49244 Aedes flavivirus \tg{Aedes}}

\bs{1015}{603}{99} \bs{1026}{613}{99} \bs{998}{633}{100} \bs{1010}{664}{88} \bs{1019}{660}{98}
\bs{1028}{669}{98} \bs{1031}{708}{100} \bs{1040}{730}{99} \bs{1051}{739}{100} \bs{999}{755}{100}
\bs{1003}{775}{77} \bs{1007}{785}{85} \bs{946}{803}{100} \bs{1007}{798}{94} \bs{1027}{808}{100}
\bs{991}{829}{100} \bs{1048}{834}{100} \bs{1052}{854}{98} \bs{1035}{859}{100} \bs{1051}{865}{100}
\bs{1044}{893}{98} \bs{1066}{892}{100} \bs{1049}{912}{100} \bs{1057}{935}{100}

\cn{1186}{598}{627}{Pegivirus}
\cn{1254}{632}{742}{Hepacivirus}
\cn{1197}{748}{787}{Pestivirus}
\cn{1218}{793}{822}{Jingmenvirus}
\cn{1292}{828}{950}{Flavivirus}
\draw[sbar] (965,853) -- (983,853);
\node[slab] (sG) at (974,862) {0.5};

\fill[novred] (697,897.7) circle[radius=4];
\node[gname] (gCH) at (704,897.7) {Culex hepacivirus 1};
\draw[stb] (690,918) -- (693,918);
\draw[seg] (693,912) rectangle (989,924);
\fill[rd] (931,913.2) rectangle (980,922.8);
\node[rdl] (rCH) at (955.5,918) {RdRp};
\node[ntbig, anchor=mid east] (nCH) at (992,937) {8988 nt};

% legend
\fill[ourblue] (512,885) circle[radius=4.5];
\node[ntl, text=ourblue] (lg1) at (528,885) {Viruses described in this study};
\fill[novred] (512,914) circle[radius=4.5];
\node[ntl, text=novred] (lg2) at (528,914) {Novel viruses discovered};
\fill[mosq] (502,936) rectangle (523,952);
\node[ntl] (lg3) at (528,944) {Mosquito-associated viruses};
\end{tikzpicture}
\end{document}
